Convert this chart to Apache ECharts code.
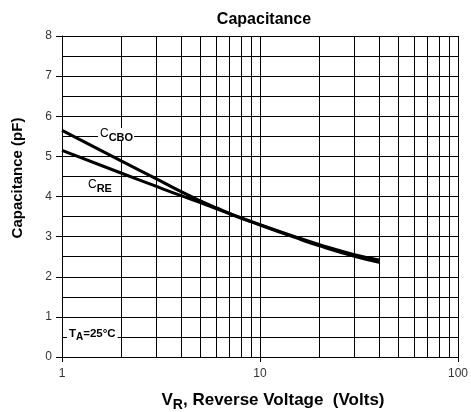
<!DOCTYPE html>
<html>
<head>
<meta charset="utf-8">
<script src="https://cdn.jsdelivr.net/npm/echarts@6/dist/echarts.min.js"></script>
<style>
  html, body { margin: 0; padding: 0; background: #fff; }
  #chart { width: 471px; height: 412px; }
</style>
</head>
<body>
<div id="chart"></div>
<script>
// Reverse voltage (V) and capacitance (pF)
const voltage = [1, 2, 3, 4, 5, 6, 8, 10, 15, 20, 30, 40];
const ccbo = [5.65, 4.88, 4.44, 4.12, 3.89, 3.72, 3.47, 3.30, 3.00, 2.80, 2.55, 2.42];
const cre = [5.15, 4.58, 4.25, 4.02, 3.85, 3.70, 3.46, 3.29, 2.98, 2.77, 2.51, 2.36];
// intermediate log grid lines
const logMinor = [2, 3, 4, 5, 6, 7, 8, 9, 20, 30, 40, 50, 60, 70, 80, 90];

const font = '"Liberation Sans", Arial, sans-serif';
const chart = echarts.init(document.getElementById('chart'));

const pairs = ys => voltage.map((v, i) => [v, ys[i]]);
const curveStyle = { color: '#000', width: 3 };

chart.setOption({
  animation: false,
  backgroundColor: '#fff',
  title: {
    text: 'Capacitance',
    left: 259, top: 7, textAlign: 'center',
    textStyle: { fontFamily: font, fontSize: 16, fontWeight: 'bold', color: '#000' }
  },
  grid: { left: 62, right: 10, top: 36, bottom: 55 },
  xAxis: {
    type: 'log', logBase: 10, min: 1, max: 100,
    axisLine: { lineStyle: { color: '#000', width: 1 } },
    axisTick: { show: true, length: 5, lineStyle: { color: '#000' } },
    axisLabel: { margin: 11, color: '#333', fontFamily: font, fontSize: 12 },
    splitLine: { show: true, lineStyle: { color: '#000', width: 1 } },
    minorTick: { show: false },
    minorSplitLine: { show: false }
  },
  yAxis: {
    type: 'value', min: 0, max: 8, interval: 1,
    axisLine: { show: true, lineStyle: { color: '#000', width: 1 } },
    axisTick: { show: true, length: 6, lineStyle: { color: '#000' } },
    axisLabel: { margin: 10, color: '#333', fontFamily: font, fontSize: 12 },
    splitLine: { show: true, lineStyle: { color: '#000', width: 1 } },
    minorTick: { show: false, splitNumber: 2 },
    minorSplitLine: { show: true, lineStyle: { color: '#000', width: 1 } }
  },
  series: [
    {
      name: 'CCBO', type: 'line', smooth: true, showSymbol: false,
      lineStyle: curveStyle, data: pairs(ccbo), z: 5,
      markLine: {
        silent: true, symbol: 'none', label: { show: false },
        lineStyle: { color: '#000', width: 1, type: 'solid' },
        data: logMinor.map(v => ({ xAxis: v })), z: 1
      }
    },
    {
      name: 'CRE', type: 'line', smooth: true, showSymbol: false,
      lineStyle: curveStyle, data: pairs(cre), z: 5
    }
  ],
  graphic: [
    {
      type: 'text', x: 18, y: 178, rotation: Math.PI / 2, z: 10,
      style: {
        text: 'Capacitance (pF)', align: 'center', verticalAlign: 'middle',
        font: 'bold 15px ' + font, fill: '#000'
      }
    },
    {
      type: 'text', x: 273, y: 400, z: 10,
      style: {
        text: '{a|V}{b|R}{a|, Reverse Voltage  (Volts)}',
        align: 'center', verticalAlign: 'middle',
        rich: {
          a: { font: 'bold 17px ' + font, fill: '#000', lineHeight: 17, verticalAlign: 'top' },
          b: { font: 'bold 14px ' + font, fill: '#000', lineHeight: 14, padding: [7, 0, 0, 0], verticalAlign: 'top' }
        }
      }
    },
    {
      type: 'text', x: 98, y: 128, z: 10,
      style: {
        text: '{a|C}{b|CBO}', backgroundColor: '#fff', padding: [0, 1, 0, 2],
        rich: {
          a: { font: '12px ' + font, fill: '#000', lineHeight: 12, verticalAlign: 'top' },
          b: { font: 'bold 11px ' + font, fill: '#000', lineHeight: 11, padding: [4, 0, 0, 0], verticalAlign: 'top' }
        }
      }
    },
    {
      type: 'text', x: 87, y: 179, z: 10,
      style: {
        text: '{a|C}{b|RE}', backgroundColor: '#fff', padding: [0, 1, 0, 1],
        rich: {
          a: { font: '12px ' + font, fill: '#000', lineHeight: 12, verticalAlign: 'top' },
          b: { font: 'bold 11px ' + font, fill: '#000', lineHeight: 11, padding: [4, 0, 0, 0], verticalAlign: 'top' }
        }
      }
    },
    {
      type: 'text', x: 67, y: 327, z: 10,
      style: {
        text: '{a|T}{b|A}{a|=25°C}', backgroundColor: '#fff', padding: [1, 2, 2, 2],
        rich: {
          a: { font: 'bold 11.5px ' + font, fill: '#000', lineHeight: 11, verticalAlign: 'top' },
          b: { font: 'bold 10px ' + font, fill: '#000', lineHeight: 10, padding: [4, 0, 0, 0], verticalAlign: 'top' }
        }
      }
    }
  ]
});

window.addEventListener('resize', () => chart.resize());
</script>
</body>
</html>
